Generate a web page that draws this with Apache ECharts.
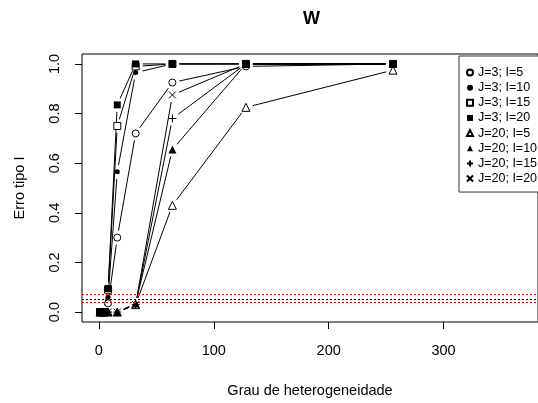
<!DOCTYPE html>
<html>
<head>
<meta charset="utf-8">
<script src="https://cdn.jsdelivr.net/npm/echarts@6/dist/echarts.min.js"></script>
<style>
  html, body { margin: 0; padding: 0; background: #fff; }
  #main { width: 538px; height: 403px; }
</style>
</head>
<body>
<div id="main"></div>
<script>
// grau de heterogeneidade (eixo x)
var graus = [1, 2, 4, 8, 16, 32, 64, 128, 256];

// erro tipo I por cenario
var j3i5   = [0, 0, 0, 0.035, 0.30, 0.72, 0.925, 0.99, 1.0];
var j3i10  = [0, 0, 0, 0.06, 0.565, 0.965, 1.0, 1.0, 1.0];
var j3i15  = [0, 0, 0, 0.09, 0.75, 0.99, 1.0, 1.0, 1.0];
var j3i20  = [0, 0, 0, 0.095, 0.835, 1.0, 1.0, 1.0, 1.0];
var j20i5  = [0, 0, 0, 0, 0, 0.03, 0.43, 0.825, 0.975];
var j20i10 = [0, 0, 0, 0, 0, 0.035, 0.655, 1.0, 1.0];
var j20i15 = [0, 0, 0, 0, 0, 0.03, 0.78, 1.0, 1.0];
var j20i20 = [0, 0, 0, 0, 0, 0.03, 0.875, 1.0, 1.0];

var nomes = ['J=3; I=5', 'J=3; I=10', 'J=3; I=15', 'J=3; I=20',
             'J=20; I=5', 'J=20; I=10', 'J=20; I=15', 'J=20; I=20'];
var valores = [j3i5, j3i10, j3i15, j3i20, j20i5, j20i10, j20i15, j20i20];

// linhas de referencia (nivel nominal e limites)
var refVermelhoSup = 0.068;
var refPreto = 0.05;
var refVermelhoInf = 0.036;

var xTicks = [0, 100, 200, 300];
var yTicks = [0, 0.2, 0.4, 0.6, 0.8, 1.0];

var FONTE = 'Liberation Sans, Arial, sans-serif';

// simbolos estilo pch do R
var simbolos = [
  { symbol: 'circle', size: 7, fill: '#fff', borda: 1 },
  { symbol: 'circle', size: 5, fill: '#000', borda: 0 },
  { symbol: 'rect', size: 7, fill: '#fff', borda: 1 },
  { symbol: 'rect', size: 7, fill: '#000', borda: 0 },
  { symbol: 'triangle', size: 8, fill: '#fff', borda: 1 },
  { symbol: 'triangle', size: 8, fill: '#000', borda: 0 },
  { symbol: 'path://M5,0L5,10M0,5L10,5', size: 8, fill: 'rgba(0,0,0,0)', borda: 1 },
  { symbol: 'path://M0,0L10,10M0,10L10,0', size: 7, fill: 'rgba(0,0,0,0)', borda: 1 }
];

// tipo "b": segmentos com folga em volta dos pontos
var GAP = 7;
function segmentos(vals) {
  var out = [];
  for (var i = 0; i < graus.length - 1; i++) {
    out.push([graus[i], vals[i], graus[i + 1], vals[i + 1]]);
  }
  return out;
}
function desenhaSeg(params, api) {
  var a = api.coord([api.value(0), api.value(1)]);
  var b = api.coord([api.value(2), api.value(3)]);
  var dx = b[0] - a[0], dy = b[1] - a[1];
  var len = Math.sqrt(dx * dx + dy * dy);
  if (len <= 2 * GAP) return null;
  var ux = dx / len, uy = dy / len;
  return {
    type: 'line',
    shape: { x1: a[0] + ux * GAP, y1: a[1] + uy * GAP, x2: b[0] - ux * GAP, y2: b[1] - uy * GAP },
    style: { stroke: '#000', lineWidth: 1 }
  };
}

var series = [];
valores.forEach(function (vals, k) {
  series.push({
    name: 'seg' + k,
    type: 'custom',
    renderItem: desenhaSeg,
    data: segmentos(vals),
    encode: { x: [0, 2], y: [1, 3] },
    silent: true,
    z: 2
  });
});
valores.forEach(function (vals, k) {
  var s = simbolos[k];
  series.push({
    name: nomes[k],
    type: 'scatter',
    symbol: s.symbol,
    symbolSize: s.size,
    itemStyle: { color: s.fill, borderColor: '#000', borderWidth: s.borda, opacity: 1 },
    data: graus.map(function (g, i) { return [g, vals[i]]; }),
    emphasis: { disabled: true },
    z: 3
  });
});
series[8].markLine = {
  silent: true,
  symbol: 'none',
  label: { show: false },
  lineStyle: { type: [2, 2], width: 1 },
  data: [
    { yAxis: refVermelhoSup, lineStyle: { color: '#ff0000' } },
    { yAxis: refPreto, lineStyle: { color: '#000' } },
    { yAxis: refVermelhoInf, lineStyle: { color: '#ff0000' } }
  ]
};

var myChart = echarts.init(document.getElementById('main'));
var option = {
  animation: false,
  backgroundColor: '#fff',
  title: {
    text: 'W',
    left: 303,
    top: 10,
    padding: 0,
    textStyle: { fontFamily: FONTE, fontSize: 18, fontWeight: 'bold', color: '#000' }
  },
  grid: {
    show: true,
    left: 82, right: -4, top: 54, bottom: 79,
    borderColor: '#000', borderWidth: 1,
    backgroundColor: 'transparent'
  },
  legend: {
    data: nomes,
    orient: 'vertical',
    left: 459,
    top: 56,
    padding: [9, 5, 6, 7],
    itemWidth: 6,
    itemHeight: 6,
    itemGap: 0.15,
    selectedMode: false,
    borderColor: '#333',
    borderWidth: 1,
    backgroundColor: '#fff',
    textStyle: { fontFamily: FONTE, fontSize: 12.5, color: '#000', lineHeight: 15 }
  },
  xAxis: {
    type: 'value',
    min: -14.7,
    max: 382.2,
    name: 'Grau de heterogeneidade',
    nameLocation: 'middle',
    nameGap: 61,
    nameTextStyle: { fontFamily: FONTE, fontSize: 14.5, color: '#000' },
    axisLine: { show: false, onZero: false },
    splitLine: { show: false },
    axisTick: { show: true, customValues: xTicks, length: 7, lineStyle: { color: '#000' } },
    axisLabel: { customValues: xTicks, margin: 21, fontFamily: FONTE, fontSize: 14.5, color: '#000' }
  },
  yAxis: {
    type: 'value',
    min: -0.04,
    max: 1.04,
    name: 'Erro tipo I',
    nameLocation: 'middle',
    nameGap: 55,
    nameTextStyle: { fontFamily: FONTE, fontSize: 14.5, color: '#000' },
    axisLine: { show: false, onZero: false },
    splitLine: { show: false },
    axisTick: { show: true, customValues: yTicks, length: 7, lineStyle: { color: '#000' } },
    axisLabel: {
      customValues: yTicks, rotate: 90, margin: 20,
      fontFamily: FONTE, fontSize: 14.5, color: '#000',
      formatter: function (v) { return v.toFixed(1); }
    }
  },
  series: series
};
myChart.setOption(option);
</script>
</body>
</html>
